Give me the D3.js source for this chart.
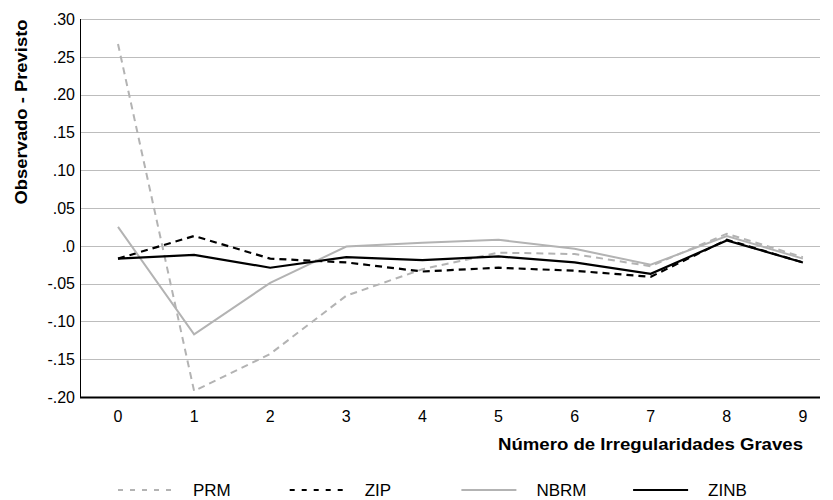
<!DOCTYPE html>
<html>
<head>
<meta charset="utf-8">
<script src="https://cdn.jsdelivr.net/npm/d3@7"></script>
<style>
  body { margin: 0; background: #fff; }
  text { font-family: "Liberation Sans", Arial, sans-serif; fill: #000; }
</style>
</head>
<body>
<script>
var width = 833,
    height = 500,
    margin = {top: 19, right: 13, bottom: 103, left: 80};

// data
var categories = [0, 1, 2, 3, 4, 5, 6, 7, 8, 9];
var prm  = [0.267, -0.192, -0.143, -0.066, -0.031, -0.009, -0.011, -0.027, 0.016, -0.015];
var zip  = [-0.017, 0.013, -0.017, -0.022, -0.034, -0.029, -0.033, -0.041, 0.008, -0.022];
var nbrm = [0.025, -0.117, -0.049, -0.001, 0.004, 0.008, -0.004, -0.025, 0.013, -0.017];
var zinb = [-0.017, -0.012, -0.029, -0.015, -0.019, -0.014, -0.022, -0.037, 0.007, -0.022];
var yTicks = [0.30, 0.25, 0.20, 0.15, 0.10, 0.05, 0, -0.05, -0.10, -0.15, -0.20];
var yTickLabels = [".30", ".25", ".20", ".15", ".10", ".05", ".0", "-.05", "-.10", "-.15", "-.20"];
var seriesNames = ["PRM", "ZIP", "NBRM", "ZINB"];

var series = [
  {name: seriesNames[0], values: prm,  color: "#b3b3b3", dash: "7,5", width: 2},
  {name: seriesNames[1], values: zip,  color: "#000",    dash: "7,5", width: 2.2},
  {name: seriesNames[2], values: nbrm, color: "#b3b3b3", dash: null,  width: 2},
  {name: seriesNames[3], values: zinb, color: "#000",    dash: null,  width: 2.2}
];

var svg = d3.select("body").append("svg")
    .attr("width", width)
    .attr("height", height);

var plotW = width - margin.left - margin.right,
    plotH = height - margin.top - margin.bottom;

var g = svg.append("g")
    .attr("transform", "translate(" + margin.left + "," + margin.top + ")");

var x = d3.scalePoint()
    .domain(categories)
    .range([38, 38 + 76.1 * 9]);

var y = d3.scaleLinear()
    .domain([-0.20, 0.30])
    .range([plotH, 0]);

// gridlines
g.selectAll("line.grid")
  .data(yTicks)
  .enter().append("line")
    .attr("class", "grid")
    .attr("x1", 0)
    .attr("x2", plotW)
    .attr("y1", function(d) { return Math.round(y(d)) + 0.5; })
    .attr("y2", function(d) { return Math.round(y(d)) + 0.5; })
    .attr("stroke", "#bdbdbd")
    .attr("stroke-width", 1);

// y tick labels
g.selectAll("text.ytick")
  .data(yTicks)
  .enter().append("text")
    .attr("class", "ytick")
    .attr("x", -5)
    .attr("y", function(d) { return y(d); })
    .attr("dy", "0.36em")
    .attr("text-anchor", "end")
    .attr("font-size", 16)
    .text(function(d, i) { return yTickLabels[i]; });

// x tick labels
g.selectAll("text.xtick")
  .data(categories)
  .enter().append("text")
    .attr("class", "xtick")
    .attr("x", function(d) { return x(d); })
    .attr("y", plotH + 25)
    .attr("text-anchor", "middle")
    .attr("font-size", 16)
    .text(function(d) { return d; });

// axes lines
g.append("line")
    .attr("x1", 0.5).attr("x2", 0.5)
    .attr("y1", 0).attr("y2", plotH)
    .attr("stroke", "#000").attr("stroke-width", 1);
g.append("line")
    .attr("x1", 0).attr("x2", plotW)
    .attr("y1", plotH + 0.5).attr("y2", plotH + 0.5)
    .attr("stroke", "#000").attr("stroke-width", 2);

// lines
var line = d3.line()
    .x(function(d, i) { return x(categories[i]); })
    .y(function(d) { return y(d); });

g.selectAll("path.series")
  .data(series)
  .enter().append("path")
    .attr("class", "series")
    .attr("d", function(d) { return line(d.values); })
    .attr("fill", "none")
    .attr("stroke", function(d) { return d.color; })
    .attr("stroke-width", function(d) { return d.width; })
    .attr("stroke-dasharray", function(d) { return d.dash; });

// axis titles
svg.append("text")
    .attr("transform", "translate(27,112) rotate(-90)")
    .attr("text-anchor", "middle")
    .attr("font-size", 16)
    .attr("font-weight", "bold")
    .attr("textLength", 185)
    .attr("lengthAdjust", "spacingAndGlyphs")
    .text("Observado - Previsto");

svg.append("text")
    .attr("x", 803)
    .attr("y", 450)
    .attr("text-anchor", "end")
    .attr("font-size", 16)
    .attr("font-weight", "bold")
    .attr("textLength", 305)
    .attr("lengthAdjust", "spacingAndGlyphs")
    .text("Número de Irregularidades Graves");

// legend
var legend = svg.selectAll("g.legend")
  .data(series)
  .enter().append("g")
    .attr("class", "legend")
    .attr("transform", function(d, i) { return "translate(" + (118 + i * 171.7) + ",490)"; });

legend.append("line")
    .attr("x1", 0).attr("x2", 55)
    .attr("y1", 0).attr("y2", 0)
    .attr("stroke", function(d) { return d.color; })
    .attr("stroke-width", 2)
    .attr("stroke-dasharray", function(d) { return d.dash ? "5,7" : null; });

legend.append("text")
    .attr("x", 75)
    .attr("y", 0)
    .attr("dy", "0.36em")
    .attr("font-size", 17)
    .text(function(d) { return d.name; });
</script>
</body>
</html>
